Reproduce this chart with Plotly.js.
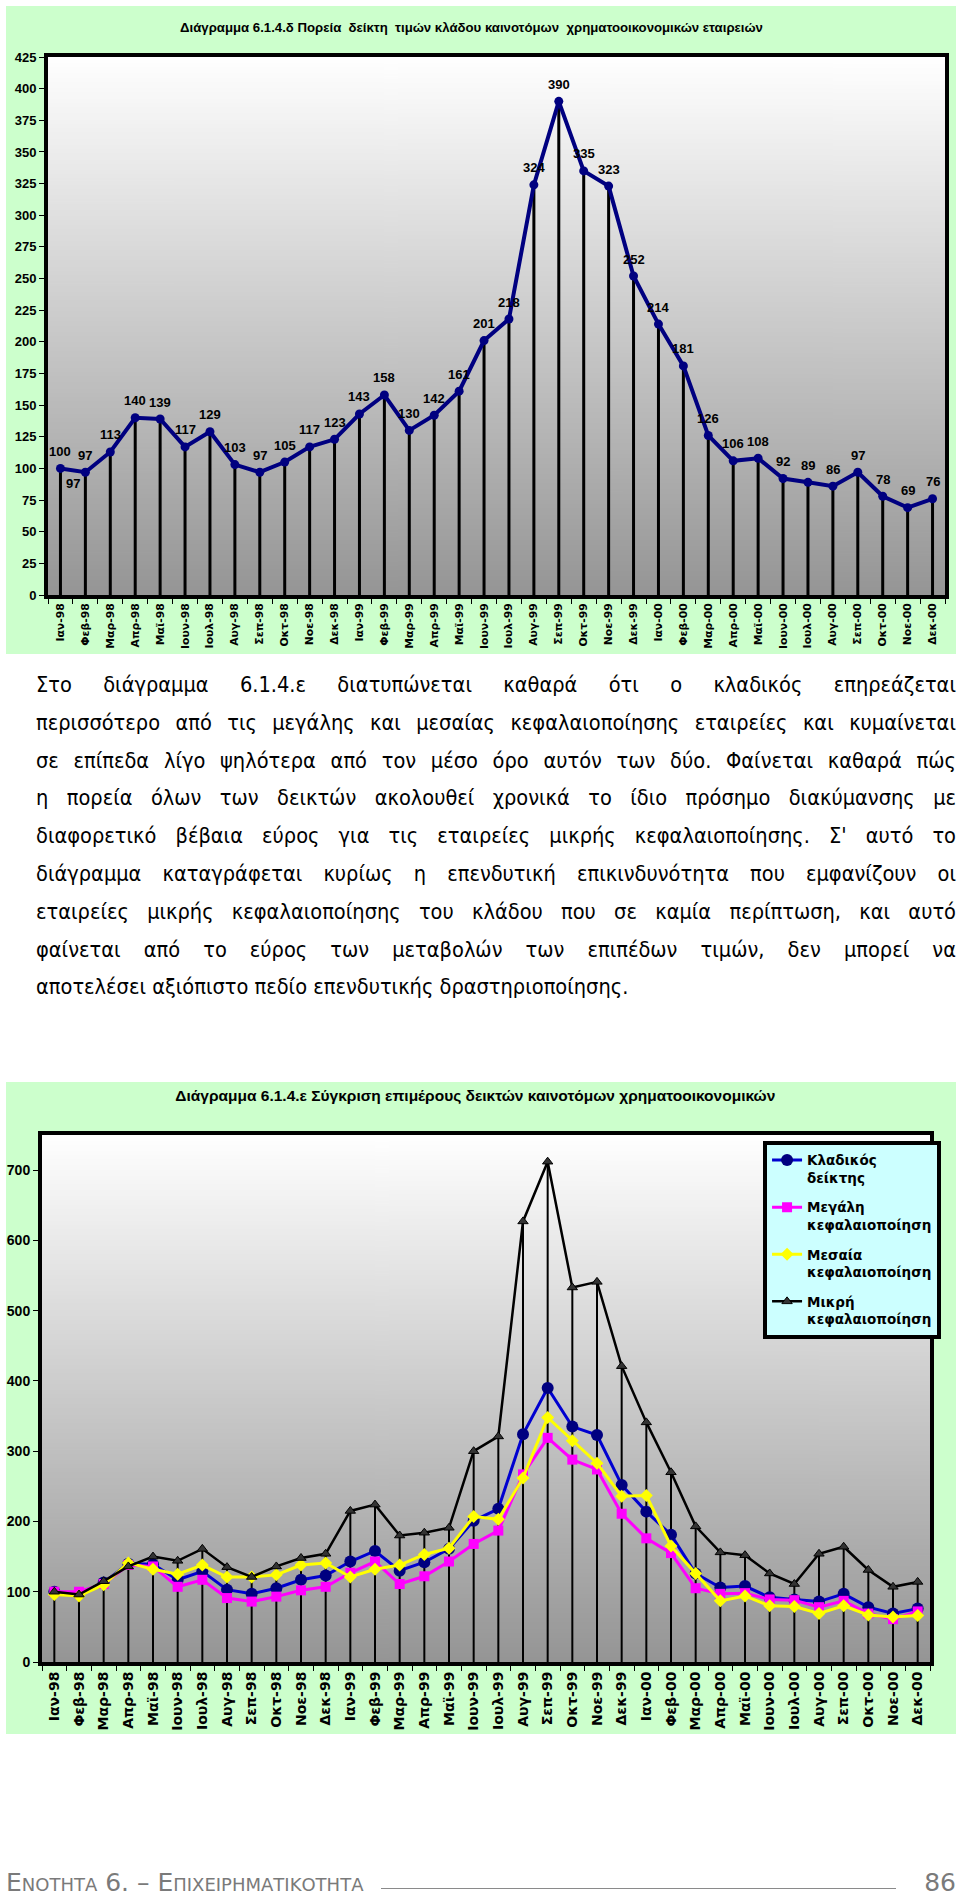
<!DOCTYPE html>
<html lang="el">
<head>
<meta charset="utf-8">
<script src="https://cdn.plot.ly/plotly-3.0.1.min.js"></script>
<style>
html,body{margin:0;padding:0;background:#fff;}
body{width:960px;height:1898px;position:relative;overflow:hidden;}
#chart1{position:absolute;left:6px;top:6px;width:950px;height:648px;}
#chart2{position:absolute;left:6px;top:1082px;width:950px;height:652px;}
#para{position:absolute;left:36px;top:666px;width:920px;font-family:'DejaVu Sans Condensed','DejaVu Sans',sans-serif;font-stretch:condensed;font-size:21.6px;line-height:37.8px;color:#000;}
#para .ln{text-align:justify;text-align-last:justify;}
#para .ln.last{text-align-last:left;}
#footer{position:absolute;left:0;top:1868px;width:960px;height:30px;font-family:'DejaVu Sans',sans-serif;color:#7a7a7a;}
#footer .ft{position:absolute;left:6px;top:0;font-size:25px;font-variant:small-caps;white-space:nowrap;}
#footer .rule{position:absolute;left:381px;width:515px;top:20px;height:0;border-top:1px solid #8a8a8a;}
#footer .pg{position:absolute;right:4px;top:0;font-size:25px;}
</style>
</head>
<body>
<div id="chart1"></div>
<div id="para">
<div class="ln">Στο διάγραμμα 6.1.4.ε διατυπώνεται καθαρά ότι ο κλαδικός επηρεάζεται</div>
<div class="ln">περισσότερο από τις μεγάλης και μεσαίας κεφαλαιοποίησης εταιρείες και κυμαίνεται</div>
<div class="ln">σε επίπεδα λίγο ψηλότερα από τον μέσο όρο αυτόν των δύο. Φαίνεται καθαρά πώς</div>
<div class="ln">η πορεία όλων των δεικτών ακολουθεί χρονικά το ίδιο πρόσημο διακύμανσης με</div>
<div class="ln">διαφορετικό βέβαια εύρος για τις εταιρείες μικρής κεφαλαιοποίησης. Σ' αυτό το</div>
<div class="ln">διάγραμμα καταγράφεται κυρίως η επενδυτική επικινδυνότητα που εμφανίζουν οι</div>
<div class="ln">εταιρείες μικρής κεφαλαιοποίησης του κλάδου που σε καμία περίπτωση, και αυτό</div>
<div class="ln">φαίνεται από το εύρος των μεταβολών των επιπέδων τιμών, δεν μπορεί να</div>
<div class="ln last">αποτελέσει αξιόπιστο πεδίο επενδυτικής δραστηριοποίησης.</div>
</div>
<div id="chart2"></div>
<div id="footer"><span class="ft">Ενοτητα 6. – Επιχειρηματικοτητα</span><div class="rule"></div><span class="pg">86</span></div>
<script>
const months = ['Ιαν-98','Φεβ-98','Μαρ-98','Απρ-98','Μαϊ-98','Ιουν-98','Ιουλ-98','Αυγ-98','Σεπ-98','Οκτ-98','Νοε-98','Δεκ-98',
                'Ιαν-99','Φεβ-99','Μαρ-99','Απρ-99','Μαϊ-99','Ιουν-99','Ιουλ-99','Αυγ-99','Σεπ-99','Οκτ-99','Νοε-99','Δεκ-99',
                'Ιαν-00','Φεβ-00','Μαρ-00','Απρ-00','Μαϊ-00','Ιουν-00','Ιουλ-00','Αυγ-00','Σεπ-00','Οκτ-00','Νοε-00','Δεκ-00'];
const sectorIndex = [100,97,113,140,139,117,129,103,97,105,117,123,143,158,130,142,161,201,218,324,390,335,323,252,214,181,126,106,108,92,89,86,97,78,69,76];
const largeCap   = [100,100,111,138,136,107,117,91,86,93,102,107,127,143,111,122,143,168,187,267,319,288,274,211,176,155,105,97,98,89,88,78,87,69,61,72];
const midCap     = [96,94,110,141,132,125,138,121,121,124,138,141,121,132,138,153,162,207,203,262,348,315,283,236,237,165,126,87,94,80,79,69,80,67,64,66];
const smallCap   = [100,96,115,136,150,144,161,135,121,136,148,154,215,224,180,184,191,300,321,627,712,533,541,421,341,270,193,156,152,126,111,154,164,131,107,114];
const seriesNames = ['Κλαδικός<br>δείκτης','Μεγάλη<br>κεφαλαιοποίηση','Μεσαία<br>κεφαλαιοποίηση','Μικρή<br>κεφαλαιοποίηση'];
const title1 = 'Διάγραμμα 6.1.4.δ Πορεία  δείκτη  τιμών κλάδου καινοτόμων  χρηματοοικονομικών εταιρειών';
const title2 = 'Διάγραμμα 6.1.4.ε Σύγκριση επιμέρους δεικτών καινοτόμων χρηματοοικονομικών';

const AR = 'Arial, "Liberation Sans", sans-serif';
const DV = '"DejaVu Sans", Verdana, sans-serif';

function gradientURL(){
  const c = document.createElement('canvas'); c.width = 4; c.height = 512;
  const g = c.getContext('2d');
  const gr = g.createLinearGradient(0,0,0,512);
  gr.addColorStop(0,'#ffffff'); gr.addColorStop(1,'#959595');
  g.fillStyle = gr; g.fillRect(0,0,4,512);
  return c.toDataURL('image/png');
}
const bgImage = {source: gradientURL(), xref:'paper', yref:'paper', x:0, y:1, sizex:1, sizey:1,
                 sizing:'stretch', xanchor:'left', yanchor:'top', layer:'below'};

function xAxis(fs){
  return {type:'category', range:[-0.5, months.length-0.5], showline:true, mirror:true, linecolor:'#000', linewidth:4,
          ticks:'outside', tickson:'boundaries', ticklen:5, tickwidth:1, tickcolor:'#000', tickangle:-90,
          tickfont:{family:DV, size:fs, color:'#000', weight:700}, showgrid:false, zeroline:false, fixedrange:true};
}
function yAxis(max, dt, fs){
  return {range:[0,max], tick0:0, dtick:dt, showline:true, mirror:true, linecolor:'#000', linewidth:4,
          ticks:'outside', ticklen:5, tickwidth:1, tickcolor:'#000',
          tickfont:{family:AR, size:fs, color:'#000', weight:700}, showgrid:false, zeroline:false, fixedrange:true};
}

/* ---------- Chart 1 ---------- */
const zeros = sectorIndex.map(() => 0);
const drop1 = {x:months, y:sectorIndex, type:'scatter', mode:'markers', marker:{size:1, color:'rgba(0,0,0,0)'},
  error_y:{type:'data', symmetric:false, array:zeros, arrayminus:sectorIndex, width:0, thickness:3, color:'#000'},
  showlegend:false, hoverinfo:'skip'};
const line1 = {x:months, y:sectorIndex, type:'scatter', mode:'lines+markers',
  line:{color:'#000080', width:4}, marker:{symbol:'circle', size:9, color:'#000080'}, showlegend:false};
const labelFont = {family:AR, size:13, color:'#000', weight:700};
const ann1 = sectorIndex.map((v,i) => ({x:months[i], y:v, xref:'x', yref:'y', text:String(v), showarrow:false, yshift:17, font:labelFont}));
ann1.push({x:0.5, y:sectorIndex[1], xref:'x', yref:'y', text:String(sectorIndex[1]), showarrow:false, yshift:-11, font:labelFont});

Plotly.newPlot('chart1', [drop1, line1], {
  width:950, height:648, margin:{l:42, r:11, t:51, b:59, pad:0},
  paper_bgcolor:'#CCFFCC', plot_bgcolor:'rgba(0,0,0,0)', showlegend:false,
  title:{text:title1, xref:'container', x:0.49, xanchor:'center', yref:'container', y:1-21/648, yanchor:'middle',
         font:{family:AR, size:13.2, color:'#000', weight:700}},
  xaxis:xAxis(10.8), yaxis:yAxis(425, 25, 13),
  images:[bgImage], annotations:ann1
}, {displayModeBar:false, staticPlot:true});

/* ---------- Chart 2 ---------- */
const allSeries = [sectorIndex, largeCap, midCap, smallCap];
const maxVals = months.map((m,i) => Math.max(...allSeries.map(s => s[i])));
const drop2 = {x:months, y:maxVals, type:'scatter', mode:'markers', marker:{size:1, color:'rgba(0,0,0,0)'},
  error_y:{type:'data', symmetric:false, array:maxVals.map(() => 0), arrayminus:maxVals, width:0, thickness:2, color:'#000'},
  showlegend:false, hoverinfo:'skip', legendgroup:'g0'};
const styles = [
  {line:{color:'#0000D0', width:3}, marker:{symbol:'circle', size:12, color:'#000080'}},
  {line:{color:'#FF00FF', width:3}, marker:{symbol:'square', size:10, color:'#FF00FF'}},
  {line:{color:'#FFFF00', width:3}, marker:{symbol:'diamond', size:10, color:'#FFFF00'}},
  {line:{color:'#000000', width:2.5}, marker:{symbol:'triangle-up', size:9, color:'#333333', line:{color:'#000', width:1}}}
];
const traces2 = allSeries.map((s,k) => Object.assign({x:months, y:s, type:'scatter', mode:'lines+markers',
  name:seriesNames[k], legendgroup:'g'+k}, styles[k]));

Plotly.newPlot('chart2', [drop2].concat(traces2), {
  width:950, height:652, margin:{l:36, r:26, t:53, b:72, pad:0},
  paper_bgcolor:'#CCFFCC', plot_bgcolor:'rgba(0,0,0,0)', showlegend:true,
  title:{text:title2, xref:'container', x:0.494, xanchor:'center', yref:'container', y:1-14/652, yanchor:'middle',
         font:{family:AR, size:15.5, color:'#000', weight:700}},
  xaxis:xAxis(14), yaxis:yAxis(750, 100, 14),
  legend:{x:0.812, y:0.989, xanchor:'left', yanchor:'top', bgcolor:'#CCFFFF', bordercolor:'#000', borderwidth:4,
          font:{family:DV, size:13.5, color:'#000', weight:700}, valign:'top', tracegroupgap:9, itemwidth:30, traceorder:'grouped'},
  images:[bgImage]
}, {displayModeBar:false, staticPlot:true});
</script>
</body>
</html>
